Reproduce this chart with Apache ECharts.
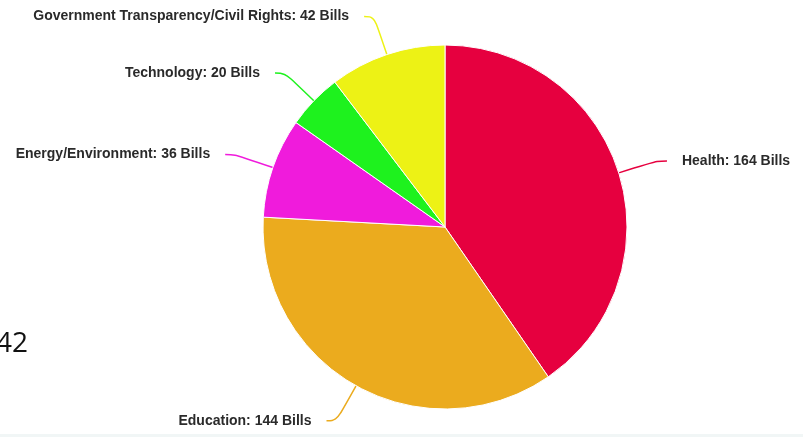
<!DOCTYPE html>
<html>
<head>
<meta charset="utf-8">
<script src="https://cdn.jsdelivr.net/npm/echarts@6/dist/echarts.min.js"></script>
<style>html,body{margin:0;padding:0;background:#fff;}#c{width:803px;height:437px;}</style>
</head>
<body>
<div id="c"></div>
<script>
const categories = ['Health', 'Education', 'Energy/Environment', 'Technology', 'Government Transparency/Civil Rights'];
const billCounts = [164, 144, 36, 20, 42];
const sliceColors = ['#E6003F', '#EBAB1E', '#F01BDC', '#1EF21E', '#EDF215'];
const sideText = '42';

const chart = echarts.init(document.getElementById('c'), null, {renderer: 'canvas'});
chart.setOption({
  animation: false,
  backgroundColor: '#ffffff',
  graphic: [
    {type: 'rect', left: 0, bottom: 0, shape: {width: 803, height: 3}, style: {fill: '#F1F6F6'}},
    {type: 'text', left: -4, top: 330, style: {text: sideText, font: '28px "Open Sans", "Liberation Sans", sans-serif', fill: '#111'}}
  ],
  series: [{
    type: 'pie',
    center: [445, 227],
    radius: 182,
    startAngle: 90,
    clockwise: true,
    avoidLabelOverlap: false,
    itemStyle: {borderColor: '#ffffff', borderWidth: 1},
    label: {
      show: true,
      position: 'outside',
      formatter: '{b}: {c} Bills',
      fontFamily: '"Liberation Sans", Arial, sans-serif',
      fontWeight: 'bold',
      fontSize: 14,
      color: '#2a2a2a',
      distanceToLabelLine: 15
    },
    labelLine: {show: true, length: 40, length2: 10, smooth: 0.4, lineStyle: {width: 1.5}},
    data: categories.map((name, i) => ({name, value: billCounts[i], itemStyle: {color: sliceColors[i]}}))
  }]
});
</script>
</body>
</html>
